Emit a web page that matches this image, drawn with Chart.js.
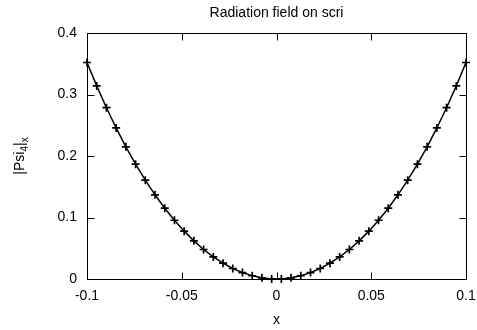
<!DOCTYPE html>
<html>
<head>
<meta charset="utf-8">
<script src="https://cdn.jsdelivr.net/npm/chart.js@4"></script>
<style>
  body { margin: 0; background: #fff; }
  #wrap { width: 477px; height: 330px; position: relative; }
</style>
</head>
<body>
<div id="wrap"><canvas id="myChart"></canvas></div>
<script>
// x positions of the samples (40 points, -0.1 .. 0.1)
const xs = [
  -0.1, -0.09487, -0.08974, -0.08462, -0.07949, -0.07436, -0.06923, -0.0641,
  -0.05897, -0.05385, -0.04872, -0.04359, -0.03846, -0.03333, -0.02821, -0.02308,
  -0.01795, -0.01282, -0.00769, -0.00256,
  0.00256, 0.00769, 0.01282, 0.01795, 0.02308, 0.02821, 0.03333, 0.03846,
  0.04359, 0.04872, 0.05385, 0.05897, 0.0641, 0.06923, 0.07436, 0.07949,
  0.08462, 0.08974, 0.09487, 0.1
];
// |Psi4|_x
const psi = [
  0.352, 0.314, 0.2785, 0.2456, 0.215, 0.1867, 0.1607, 0.1369,
  0.1151, 0.0955, 0.0778, 0.062, 0.048, 0.0359, 0.0257, 0.0171,
  0.0104, 0.0053, 0.0019, 0.0002,
  0.0002, 0.0019, 0.0053, 0.0104, 0.0171, 0.0257, 0.0359, 0.048,
  0.062, 0.0778, 0.0955, 0.1151, 0.1369, 0.1607, 0.1867, 0.215,
  0.2456, 0.2785, 0.314, 0.352
];
const xTicks = [-0.1, -0.05, 0, 0.05, 0.1];
const yTicks = [0, 0.1, 0.2, 0.3, 0.4];
const titleText = 'Radiation field on scri';

const FONT = '"Liberation Sans", Arial, sans-serif';

// gnuplot-like frame: border, inward ticks, title and y label with subscripts
const frame = {
  id: 'frame',
  afterDraw(chart) {
    const ctx = chart.ctx;
    const a = chart.chartArea;
    const sx = chart.scales.x, sy = chart.scales.y;
    const L = Math.round(a.left) + 0.5, R = Math.round(a.right) + 0.5;
    const T = Math.round(a.top) + 0.5, B = Math.round(a.bottom) + 0.5;
    ctx.save();
    ctx.strokeStyle = '#000';
    ctx.lineWidth = 1;
    ctx.strokeRect(L, T, R - L, B - T);
    const tl = 7;
    ctx.beginPath();
    xTicks.forEach(v => {
      const px = Math.round(sx.getPixelForValue(v)) + 0.5;
      ctx.moveTo(px, B); ctx.lineTo(px, B - tl);
      ctx.moveTo(px, T); ctx.lineTo(px, T + tl);
    });
    yTicks.forEach(v => {
      const py = Math.round(sy.getPixelForValue(v)) + 0.5;
      ctx.moveTo(L, py); ctx.lineTo(L + tl, py);
      ctx.moveTo(R, py); ctx.lineTo(R - tl, py);
    });
    ctx.stroke();

    ctx.fillStyle = '#000';
    ctx.font = '14px ' + FONT;
    ctx.textAlign = 'center';
    ctx.textBaseline = 'alphabetic';
    ctx.fillText(titleText, (a.left + a.right) / 2, 17);
    ctx.fillText('x', (a.left + a.right) / 2, 324);

    // rotated y label |Psi4|x
    ctx.translate(24, (a.top + a.bottom) / 2);
    ctx.rotate(-Math.PI / 2);
    const parts = [['|Psi', 14, 0], ['4', 10, 4], ['|', 14, 0], ['x', 10, 4]];
    let w = 0;
    parts.forEach(p => { ctx.font = p[1] + 'px ' + FONT; w += ctx.measureText(p[0]).width; });
    let cx = -w / 2;
    ctx.textAlign = 'left';
    parts.forEach(p => {
      ctx.font = p[1] + 'px ' + FONT;
      ctx.fillText(p[0], cx, p[2]);
      cx += ctx.measureText(p[0]).width;
    });
    ctx.restore();
  }
};

const data = {
  datasets: [{
    label: '|Psi4|x',
    data: xs.map((x, i) => ({ x: x, y: psi[i] })),
    borderColor: '#000',
    backgroundColor: '#000',
    borderWidth: 1.5,
    pointStyle: 'cross',
    pointRadius: 4,
    pointBorderWidth: 1.7,
    pointBorderColor: '#000',
    tension: 0,
    clip: false
  }]
};

const config = {
  type: 'line',
  data: data,
  options: {
    responsive: true,
    maintainAspectRatio: false,
    animation: false,
    layout: { padding: { top: 33, right: 11, left: 0, bottom: 0 } },
    plugins: { legend: { display: false }, title: { display: false }, tooltip: { enabled: false } },
    scales: {
      x: {
        type: 'linear',
        min: -0.1,
        max: 0.1,
        afterFit: s => { s.height = 51; s.paddingLeft = 0; s.paddingRight = 0; },
        afterBuildTicks: s => { s.ticks = xTicks.map(v => ({ value: v })); },
        grid: { display: false, drawTicks: false },
        border: { display: false },
        ticks: {
          padding: 9,
          color: '#000',
          font: { family: FONT, size: 14 },
          maxRotation: 0,
          callback: v => String(Number(v.toFixed(2)))
        }
      },
      y: {
        type: 'linear',
        min: 0,
        max: 0.4,
        afterFit: s => { s.width = 87; s.paddingTop = 0; s.paddingBottom = 0; },
        afterBuildTicks: s => { s.ticks = yTicks.map(v => ({ value: v })); },
        grid: { display: false, drawTicks: false },
        border: { display: false },
        ticks: {
          padding: 10,
          color: '#000',
          font: { family: FONT, size: 14 },
          callback: v => String(Number(v.toFixed(2)))
        }
      }
    }
  },
  plugins: [frame]
};

const myChart = new Chart(document.getElementById('myChart'), config);
</script>
</body>
</html>
